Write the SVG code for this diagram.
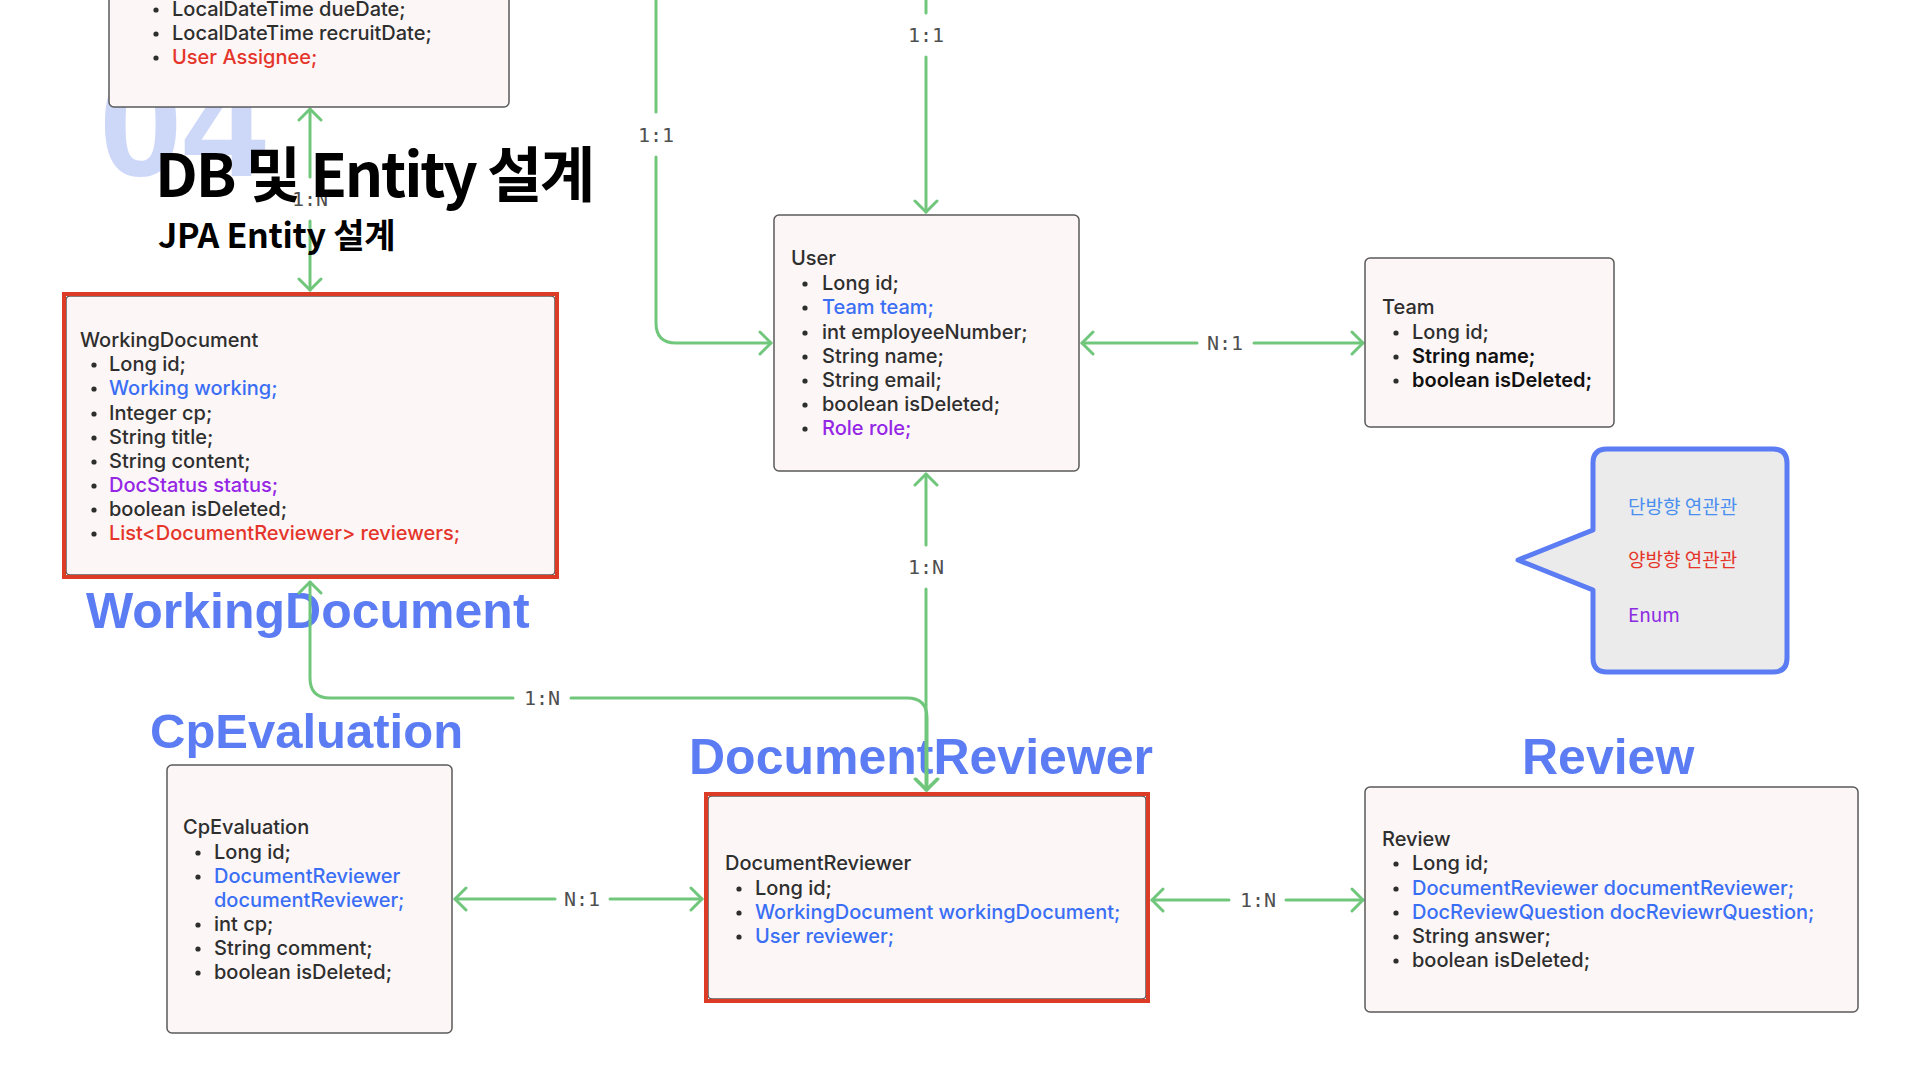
<svg xmlns="http://www.w3.org/2000/svg" width="1920" height="1080" viewBox="0 0 1920 1080">
  <defs>
    <style>
      .box { fill: #fcf6f6; stroke: #5a5a5a; stroke-width: 1.5; }
      .hl { fill: none; stroke: #dc3b26; stroke-width: 4; }
      .t { font-family: Inter, "Liberation Sans", Arial, sans-serif; font-size: 20px; font-weight: 500; fill: #2e2e2e; }
      .dot { fill: #2e2e2e; }
      .blue { fill: #3a6ff5; }
      .red { fill: #e5352a; }
      .purple { fill: #9426e6; }
      .strong { font-weight: 600; fill: #111; }
      .big { font-family: "Liberation Sans", Arial, sans-serif; font-weight: bold; fill: #5b7cf3; }
      .conn { fill: none; stroke: #70c77c; stroke-width: 3; stroke-linecap: round; stroke-linejoin: round; }
      .lbl { font-family: "DejaVu Sans Mono", "Liberation Mono", monospace; font-size: 20px; fill: #505050; text-anchor: middle; }
      .title { font-family: "Noto Sans CJK KR", "Noto Sans", sans-serif; font-weight: 700; fill: #000; }
      .legend { font-family: "Noto Sans CJK KR", "Noto Sans", sans-serif; font-size: 19px; }
    </style>
    <marker id="chev" viewBox="-14 -14 16 28" markerWidth="16" markerHeight="28" refX="0" refY="0" markerUnits="userSpaceOnUse" orient="auto-start-reverse">
      <path d="M-11,-11 L0,0 L-11,11" fill="none" stroke="#70c77c" stroke-width="3" stroke-linecap="round" stroke-linejoin="round"/>
    </marker>
  </defs>

  <rect width="1920" height="1080" fill="#ffffff"/>

  <!-- section number watermark -->
  <text x="99" y="176" font-family="Liberation Sans, Arial, sans-serif" font-weight="bold" font-size="150" fill="#cdd7f8">04</text>

  <!-- entity captions -->
  <g id="captions">
    <text class="big" x="86" y="628" font-size="50">WorkingDocument</text>
    <text class="big" x="150" y="748" font-size="49">CpEvaluation</text>
    <text class="big" x="689" y="774" font-size="50">DocumentReviewer</text>
    <text class="big" x="1522" y="774" font-size="50">Review</text>
  </g>

  <!-- relations -->
  <g id="connectors">
    <path class="conn" d="M310,109 V177 M310,221 V290" marker-start="url(#chev)" marker-end="url(#chev)"/>
    <text class="lbl" x="310" y="206">1:N</text>

    <path class="conn" d="M926,-5 V13 M926,57 V212" marker-end="url(#chev)"/>
    <text class="lbl" x="926" y="42">1:1</text>

    <path class="conn" d="M656,-5 V112 M656,157 V323 Q656,343 676,343 H771" marker-end="url(#chev)"/>
    <text class="lbl" x="656" y="142">1:1</text>

    <path class="conn" d="M1082,343 H1197 M1254,343 H1363" marker-start="url(#chev)" marker-end="url(#chev)"/>
    <text class="lbl" x="1225" y="350">N:1</text>

    <path class="conn" d="M926,474 V545 M926,589 V790" marker-start="url(#chev)" marker-end="url(#chev)"/>
    <text class="lbl" x="926" y="574">1:N</text>

    <path class="conn" d="M310,582 V678 Q310,698 330,698 H513 M571,698 H907 Q927,698 927,718 V790" marker-start="url(#chev)" marker-end="url(#chev)"/>
    <text class="lbl" x="542" y="705">1:N</text>

    <path class="conn" d="M455,899 H555 M610,899 H702" marker-start="url(#chev)" marker-end="url(#chev)"/>
    <text class="lbl" x="582" y="906">N:1</text>

    <path class="conn" d="M1152,900 H1229 M1286,900 H1363" marker-start="url(#chev)" marker-end="url(#chev)"/>
    <text class="lbl" x="1258" y="907">1:N</text>
  </g>

  <!-- Working (top, partly cut off) -->
  <g id="node-working">
    <rect class="box" x="109" y="-20" width="400" height="127" rx="5"/>
    <circle class="dot" cx="156" cy="10" r="2.6"/><text class="t" x="172" y="16">LocalDateTime dueDate;</text>
    <circle class="dot" cx="156" cy="34" r="2.6"/><text class="t" x="172" y="40">LocalDateTime recruitDate;</text>
    <circle class="dot" cx="156" cy="58" r="2.6"/><text class="t red" x="172" y="64">User Assignee;</text>
  </g>

  <!-- WorkingDocument -->
  <g id="node-working-document">
    <rect class="box" x="66" y="296" width="489" height="279" rx="4"/>
    <rect class="hl" x="64" y="294" width="493" height="283"/>
    <text class="t" x="80" y="347">WorkingDocument</text>
    <circle class="dot" cx="94" cy="365" r="2.6"/><text class="t" x="109" y="371">Long id;</text>
    <circle class="dot" cx="94" cy="389" r="2.6"/><text class="t blue" x="109" y="395">Working working;</text>
    <circle class="dot" cx="94" cy="414" r="2.6"/><text class="t" x="109" y="420">Integer cp;</text>
    <circle class="dot" cx="94" cy="438" r="2.6"/><text class="t" x="109" y="444">String title;</text>
    <circle class="dot" cx="94" cy="462" r="2.6"/><text class="t" x="109" y="468">String content;</text>
    <circle class="dot" cx="94" cy="486" r="2.6"/><text class="t purple" x="109" y="492">DocStatus status;</text>
    <circle class="dot" cx="94" cy="510" r="2.6"/><text class="t" x="109" y="516">boolean isDeleted;</text>
    <circle class="dot" cx="94" cy="534" r="2.6"/><text class="t red" x="109" y="540">List&lt;DocumentReviewer&gt; reviewers;</text>
  </g>

  <!-- User -->
  <g id="node-user">
    <rect class="box" x="774" y="215" width="305" height="256" rx="5"/>
    <text class="t" x="791" y="265">User</text>
    <circle class="dot" cx="805" cy="284" r="2.6"/><text class="t" x="822" y="290">Long id;</text>
    <circle class="dot" cx="805" cy="308" r="2.6"/><text class="t blue" x="822" y="314">Team team;</text>
    <circle class="dot" cx="805" cy="333" r="2.6"/><text class="t" x="822" y="339">int employeeNumber;</text>
    <circle class="dot" cx="805" cy="357" r="2.6"/><text class="t" x="822" y="363">String name;</text>
    <circle class="dot" cx="805" cy="381" r="2.6"/><text class="t" x="822" y="387">String email;</text>
    <circle class="dot" cx="805" cy="405" r="2.6"/><text class="t" x="822" y="411">boolean isDeleted;</text>
    <circle class="dot" cx="805" cy="429" r="2.6"/><text class="t purple" x="822" y="435">Role role;</text>
  </g>

  <!-- Team -->
  <g id="node-team">
    <rect class="box" x="1365" y="258" width="249" height="169" rx="5"/>
    <text class="t" x="1382" y="314">Team</text>
    <circle class="dot" cx="1396" cy="333" r="2.6"/><text class="t" x="1412" y="339">Long id;</text>
    <circle class="dot" cx="1396" cy="357" r="2.6"/><text class="t strong" x="1412" y="363">String name;</text>
    <circle class="dot" cx="1396" cy="381" r="2.6"/><text class="t strong" x="1412" y="387">boolean isDeleted;</text>
  </g>

  <!-- colour legend callout -->
  <g id="node-legend">
    <path d="M1607,449 H1773 Q1787,449 1787,463 V658 Q1787,672 1773,672 H1607 Q1593,672 1593,658 V590 L1518,560 L1593,530 V463 Q1593,449 1607,449 Z" fill="#ebebeb" stroke="#5b7cf3" stroke-width="5" stroke-linejoin="round"/>
    <text class="legend" x="1628" y="514" fill="#4a8ff0">단방향 연관관</text>
    <text class="legend" x="1628" y="567" fill="#e5352a">양방향 연관관</text>
    <text class="legend" x="1628" y="622" fill="#8b2be2">Enum</text>
  </g>

  <!-- CpEvaluation -->
  <g id="node-cp-evaluation">
    <rect class="box" x="167" y="765" width="285" height="268" rx="5"/>
    <text class="t" x="183" y="834">CpEvaluation</text>
    <circle class="dot" cx="198" cy="853" r="2.6"/><text class="t" x="214" y="859">Long id;</text>
    <circle class="dot" cx="198" cy="877" r="2.6"/><text class="t blue" x="214" y="883">DocumentReviewer</text>
    <text class="t blue" x="214" y="907">documentReviewer;</text>
    <circle class="dot" cx="198" cy="925" r="2.6"/><text class="t" x="214" y="931">int cp;</text>
    <circle class="dot" cx="198" cy="949" r="2.6"/><text class="t" x="214" y="955">String comment;</text>
    <circle class="dot" cx="198" cy="973" r="2.6"/><text class="t" x="214" y="979">boolean isDeleted;</text>
  </g>

  <!-- DocumentReviewer -->
  <g id="node-document-reviewer">
    <rect class="box" x="708" y="796" width="438" height="203" rx="4"/>
    <rect class="hl" x="706" y="794" width="442" height="207"/>
    <text class="t" x="725" y="870">DocumentReviewer</text>
    <circle class="dot" cx="739" cy="889" r="2.6"/><text class="t" x="755" y="895">Long id;</text>
    <circle class="dot" cx="739" cy="913" r="2.6"/><text class="t blue" x="755" y="919">WorkingDocument workingDocument;</text>
    <circle class="dot" cx="739" cy="937" r="2.6"/><text class="t blue" x="755" y="943">User reviewer;</text>
  </g>

  <!-- Review -->
  <g id="node-review">
    <rect class="box" x="1365" y="787" width="493" height="225" rx="5"/>
    <text class="t" x="1382" y="846">Review</text>
    <circle class="dot" cx="1396" cy="864" r="2.6"/><text class="t" x="1412" y="870">Long id;</text>
    <circle class="dot" cx="1396" cy="889" r="2.6"/><text class="t blue" x="1412" y="895">DocumentReviewer documentReviewer;</text>
    <circle class="dot" cx="1396" cy="913" r="2.6"/><text class="t blue" x="1412" y="919">DocReviewQuestion docReviewrQuestion;</text>
    <circle class="dot" cx="1396" cy="937" r="2.6"/><text class="t" x="1412" y="943">String answer;</text>
    <circle class="dot" cx="1396" cy="961" r="2.6"/><text class="t" x="1412" y="967">boolean isDeleted;</text>
  </g>

  <!-- slide heading -->
  <g id="heading">
    <text class="title" x="155" y="197" font-size="60" letter-spacing="-2.2">DB 및 Entity 설계</text>
    <text class="title" x="158" y="248" font-size="34" letter-spacing="-0.3">JPA Entity 설계</text>
  </g>
</svg>
